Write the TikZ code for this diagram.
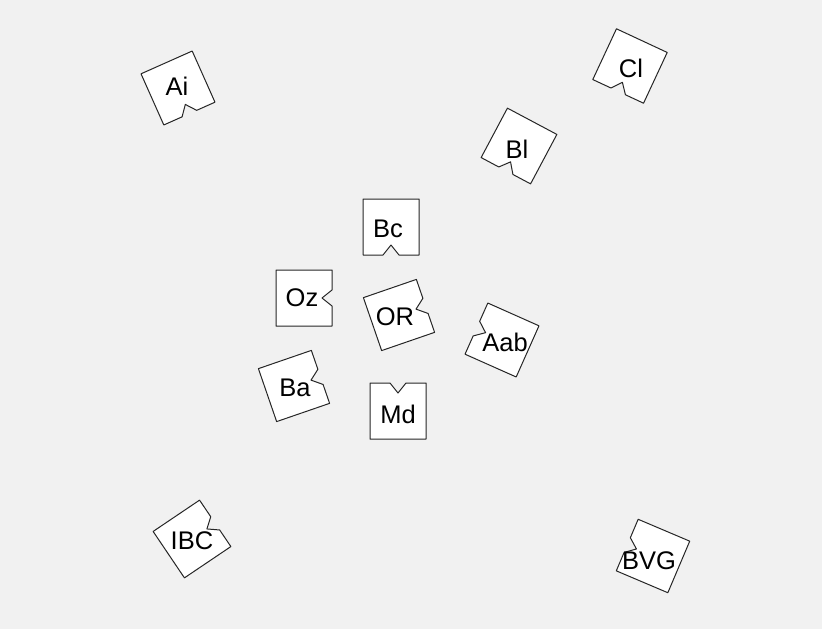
\documentclass[tikz,border=0pt]{standalone}
\usepackage{fontspec}
\setmainfont{Liberation Sans}
\usepackage{tikz}
\usepackage{xcolor}
\usetikzlibrary{positioning}
\definecolor{paper}{gray}{0.945}

\begin{document}
\begin{tikzpicture}[x=1pt, y=1pt,
    tile/.style={draw=black!85, fill=white, line width=1pt, line join=round},
    lbl/.style={font=\fontsize{25.5}{28}\selectfont, inner sep=0pt}]
        \fill[paper] (0,0) rectangle (822,-629);
        \useasboundingbox (0,0) rectangle (822,-629);
        \foreach \x/\y/\a/\t/\tx/\ty in {178/88/24/Ai/177/86, 630/66/-25/Cl/631/68, 519/146/-28/Bl/517/149,
                                 391/227/0/Bc/388/229, 304/298/90/Oz/302/298, 399/315/109/OR/395/317,
                                 502/340/246/Aab/505/342, 294/386/109/Ba/295/388, 398/411/180/Md/398/414,
                                 192/539/124/IBC/192/541, 653/556/247/BVG/649/561} {
            \draw[tile, shift={(\x,-\y)}, rotate=\a]
                (-28,28) -- (28,28) -- (28,-28) -- (8,-28) -- (0,-18) -- (-8,-28) -- (-28,-28) -- cycle;
            \node[lbl] (\t) at (\tx,-\ty) {\t};
        }
    \end{tikzpicture}
\end{document}
